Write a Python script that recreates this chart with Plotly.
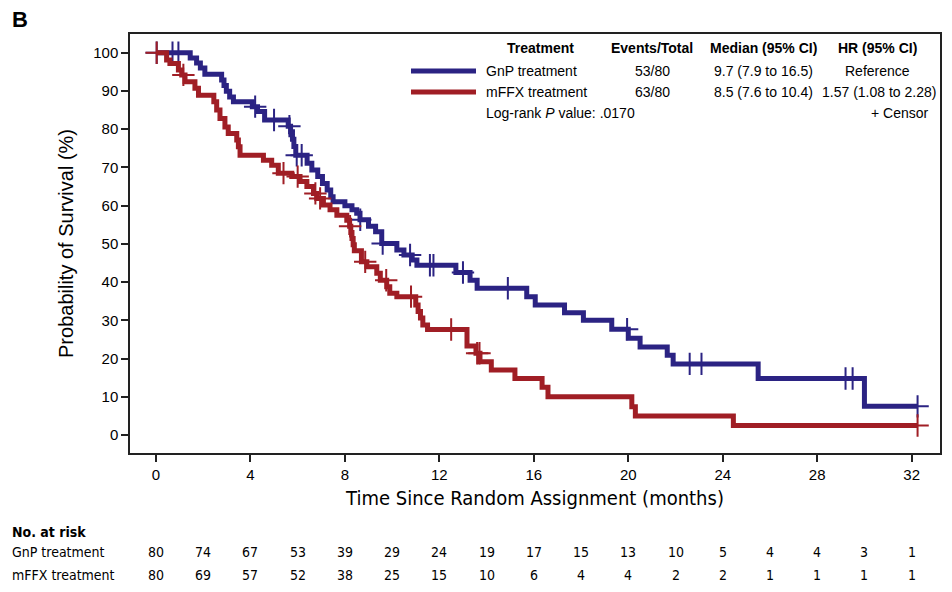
import plotly.graph_objects as go

# ---------------- data ----------------
gnp_times = [0, 1.45, 1.72, 1.88, 2.07, 2.78, 2.88, 2.98, 3.12, 3.28, 4.08, 4.3, 4.6,
             5.6, 5.7, 5.78, 5.84, 5.92, 6.4, 6.6, 6.85, 7.05, 7.25, 7.4, 7.5, 8.0,
             8.3, 8.5, 8.64, 9.0, 9.3, 9.56, 10.2, 10.5, 10.85, 11.05, 12.7, 13.3,
             13.6, 15.7, 16.06, 17.3, 18.1, 19.3, 20.0, 20.5, 21.65, 21.9, 25.5, 30.0]
gnp_surv = [100, 98.6, 97.3, 96.0, 94.4, 92.9, 91.4, 89.9, 88.4, 87.2, 85.9, 84.6, 82.4,
            80.8, 79.3, 77.4, 75.5, 73.2, 71.1, 69.3, 67.6, 65.8, 64.1, 62.3, 61.0, 60.0,
            58.9, 58.0, 56.3, 54.6, 53.2, 50.1, 48.4, 47.1, 45.8, 44.4, 42.5, 40.5,
            38.4, 36.2, 34.0, 32.0, 30.0, 27.7, 25.3, 23.0, 20.9, 18.6, 14.8, 7.5]
gnp_end = 32.25
gnp_censor = [0.03, 0.7, 0.95, 4.2, 5.0, 5.65, 5.96, 6.17, 8.65, 9.6, 10.76, 11.6, 11.75,
              13.0, 14.9, 19.95, 22.6, 23.1, 29.2, 29.5, 32.25]

mffx_times = [0, 0.45, 0.59, 0.95, 1.09, 1.23, 1.65, 1.8, 2.45, 2.57, 2.71, 2.92, 3.06,
              3.42, 3.49, 3.56, 4.55, 4.9, 5.18, 5.75, 6.1, 6.39, 6.67, 6.81, 7.09, 7.37,
              7.66, 8.08, 8.2, 8.25, 8.3, 8.35, 8.4, 8.7, 8.93, 9.35, 9.5, 9.77, 9.9,
              10.2, 11.0, 11.1, 11.2, 11.3, 11.5, 13.17, 13.55, 13.72, 14.2, 15.2, 16.35,
              16.6, 20.15, 20.3, 24.45]
mffx_surv = [100, 98.1, 97.2, 95.5, 94.2, 92.4, 90.7, 88.9, 87.2, 85.0, 82.8, 80.6, 78.9,
             77.2, 75.4, 73.2, 71.9, 70.6, 68.5, 67.6, 66.3, 65.0, 63.2, 61.9, 60.2, 58.9,
             57.5, 56.2, 54.6, 53.0, 51.4, 49.8, 48.2, 45.3, 44.0, 42.3, 40.5, 38.8, 37.1,
             36.2, 34.0, 32.3, 30.6, 28.8, 27.6, 23.3, 21.4, 19.2, 17.0, 14.8, 12.5,
             10.0, 7.4, 5.0, 2.5]
mffx_end = 32.25
mffx_censor = [0.03, 1.16, 5.4, 6.0, 6.75, 6.95, 8.22, 8.86, 9.75, 10.8, 12.5, 13.6, 13.7,
               32.25]

risk_times = [0, 2, 4, 6, 8, 10, 12, 14, 16, 18, 20, 22, 24, 26, 28, 30, 32]
risk_gnp = [80, 74, 67, 53, 39, 29, 24, 19, 17, 15, 13, 10, 5, 4, 4, 3, 1]
risk_mffx = [80, 69, 57, 52, 38, 25, 15, 10, 6, 4, 4, 2, 2, 1, 1, 1, 1]

x_ticks = [0, 4, 8, 12, 16, 20, 24, 28, 32]
y_ticks = [0, 10, 20, 30, 40, 50, 60, 70, 80, 90, 100]

BLUE = "#2b2383"
RED = "#a01e25"
FONT = "Liberation Sans, Arial, Helvetica, sans-serif"
NARROW = "Liberation Sans Narrow, Arial Narrow, DejaVu Sans Condensed, sans-serif"


def surv_at(times, surv, t):
    s = surv[0]
    for ti, si in zip(times, surv):
        if ti <= t:
            s = si
    return s


fig = go.Figure()
for times, surv, end, cens, col in [
    (gnp_times, gnp_surv, gnp_end, gnp_censor, BLUE),
    (mffx_times, mffx_surv, mffx_end, mffx_censor, RED),
]:
    fig.add_trace(go.Scatter(x=times + [end], y=surv + [surv[-1]], mode="lines",
                             line=dict(color=col, width=5, shape="hv"),
                             showlegend=False, hoverinfo="skip"))
    fig.add_trace(go.Scatter(x=cens, y=[surv_at(times, surv, c) for c in cens],
                             mode="markers",
                             marker=dict(symbol="cross-thin", size=16, color=col,
                                         line=dict(color=col, width=2)),
                             showlegend=False, hoverinfo="skip"))

# page offset (browser body margin)
OFF = 8
W, H = 952, 592
FL, FR, FT, FB = 130, 940, 34, 453   # frame in reference pixels
L, T = FL - OFF, FT - OFF
R = W - (FR - OFF)
B = H - (FB - OFF)
pw, ph = W - L - R, H - T - B


def px(x):
    return (x - OFF - L) / pw


def py(y):
    return (H - B - (y - OFF)) / ph


ann = []
base = dict(xref="paper", yref="paper", showarrow=False, yanchor="middle",
            font=dict(family=FONT, size=14, color="black"))
ann.append(dict(base, x=px(540), y=py(48), text="<b>Treatment</b>", xanchor="center"))
ann.append(dict(base, x=px(652), y=py(48), text="<b>Events/Total</b>", xanchor="center"))
ann.append(dict(base, x=px(763), y=py(48), text="<b>Median (95% CI)</b>", xanchor="center"))
ann.append(dict(base, x=px(877), y=py(48), text="<b>HR (95% CI)</b>", xanchor="center"))
ann.append(dict(base, x=px(484), y=py(71), text="GnP treatment", xanchor="left"))
ann.append(dict(base, x=px(652), y=py(71), text="53/80", xanchor="center"))
ann.append(dict(base, x=px(763), y=py(71), text="9.7 (7.9 to 16.5)", xanchor="center"))
ann.append(dict(base, x=px(877), y=py(71), text="Reference", xanchor="center"))
ann.append(dict(base, x=px(484), y=py(92), text="mFFX treatment", xanchor="left"))
ann.append(dict(base, x=px(652), y=py(92), text="63/80", xanchor="center"))
ann.append(dict(base, x=px(763), y=py(92), text="8.5 (7.6 to 10.4)", xanchor="center"))
ann.append(dict(base, x=px(879), y=py(92), text="1.57 (1.08 to 2.28)", xanchor="center"))
ann.append(dict(base, x=px(484), y=py(113), text="Log-rank <i>P</i> value: .0170", xanchor="left"))
ann.append(dict(base, x=px(931), y=py(113), text="+ Censor", xanchor="right"))

# panel letter
ann.append(dict(base, x=px(10), y=py(19), text="<b>B</b>", xanchor="left",
                font=dict(family=FONT, size=22, color="black")))

# risk table
rt = dict(showarrow=False, yanchor="middle", font=dict(family=NARROW, size=14, color="black"))
ann.append(dict(rt, xref="paper", yref="paper", x=px(10), y=py(532), text="<b>No. at risk</b>", xanchor="left"))
ann.append(dict(rt, xref="paper", yref="paper", x=px(10), y=py(552), text="GnP treatment", xanchor="left"))
ann.append(dict(rt, xref="paper", yref="paper", x=px(10), y=py(575), text="mFFX treatment", xanchor="left"))
for t, a, b in zip(risk_times, risk_gnp, risk_mffx):
    ann.append(dict(rt, xref="x", yref="paper", x=t, y=py(552), text=str(a), xanchor="center"))
    ann.append(dict(rt, xref="x", yref="paper", x=t, y=py(575), text=str(b), xanchor="center"))

shapes = [
    dict(type="line", xref="paper", yref="paper", x0=px(411), x1=px(476), y0=py(71), y1=py(71),
         line=dict(color=BLUE, width=5)),
    dict(type="line", xref="paper", yref="paper", x0=px(411), x1=px(476), y0=py(92), y1=py(92),
         line=dict(color=RED, width=5)),
]

fig.update_layout(
    width=W, height=H,
    margin=dict(l=L, r=R, t=T, b=B),
    paper_bgcolor="white", plot_bgcolor="white",
    annotations=ann, shapes=shapes,
    xaxis=dict(range=[-1.1, 33.2], tickvals=x_ticks, ticks="outside", ticklen=7, tickwidth=1.5,
               tickcolor="#222", showline=True, linecolor="#222", linewidth=1.5, mirror=True,
               showgrid=False, zeroline=False,
               tickfont=dict(family=FONT, size=15, color="black"),
               title=dict(text="Time Since Random Assignment (months)", standoff=9,
                          font=dict(family=NARROW, size=20, color="black"))),
    yaxis=dict(range=[-4.7, 104.9], tickvals=y_ticks, ticks="outside", ticklen=7, tickwidth=1.5,
               tickcolor="#222", showline=True, linecolor="#222", linewidth=1.5, mirror=True,
               showgrid=False, zeroline=False,
               tickfont=dict(family=FONT, size=15, color="black"),
               title=dict(text="Probability of Survival (%)", standoff=14,
                          font=dict(family=FONT, size=20, color="black"))),
)

fig.write_html("out.html")
